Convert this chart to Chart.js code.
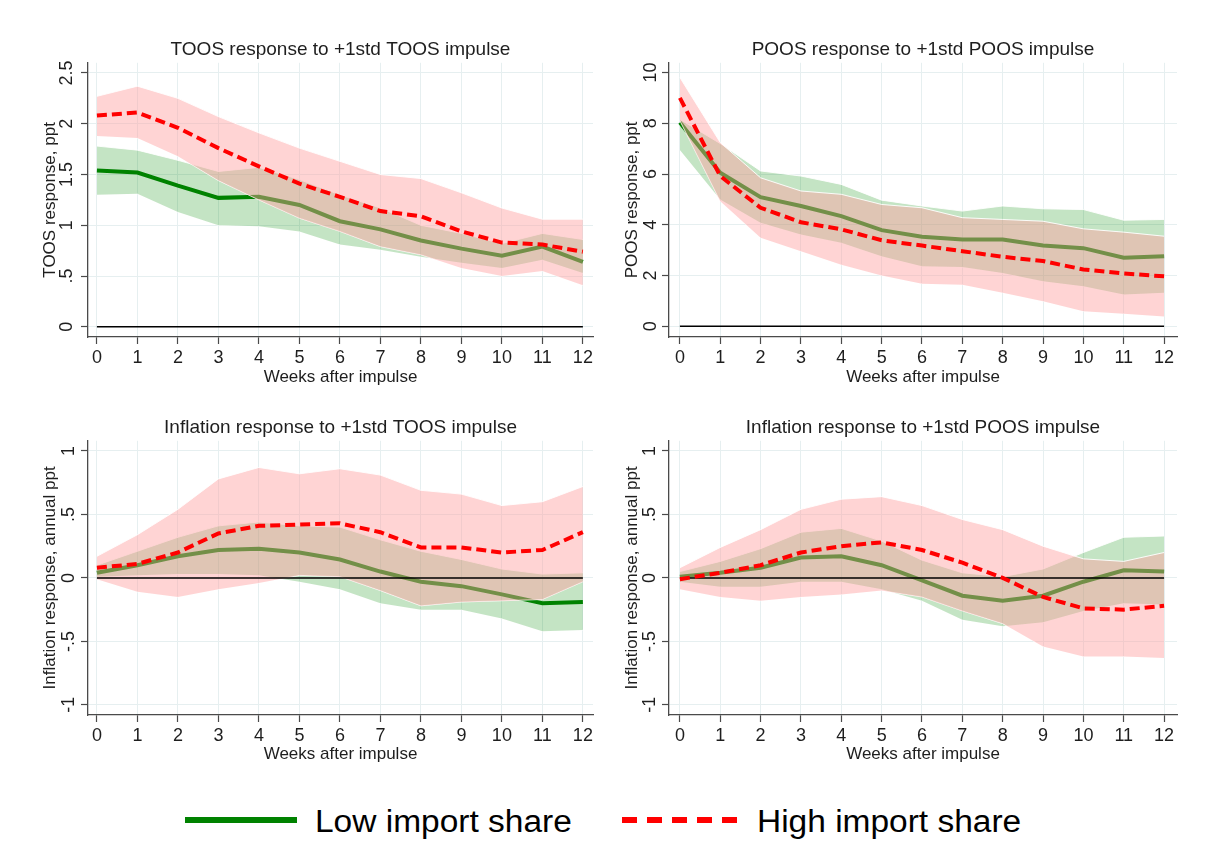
<!DOCTYPE html>
<html>
<head>
<meta charset="utf-8">
<script src="https://cdn.jsdelivr.net/npm/chart.js@4.4.1/dist/chart.umd.min.js"></script>
<style>
  body { margin:0; background:#fff; width:1209px; height:849px; position:relative; overflow:hidden;
         font-family:"Liberation Sans", Arial, sans-serif; }
  canvas { position:absolute; }
  .legline { position:absolute; }
  .legtxt { position:absolute; font-size:31px; line-height:31px; color:#000; white-space:nowrap;
            transform:scaleX(1.08); transform-origin:left center; }
</style>
</head>
<body>
<canvas id="p1" width="573" height="360" style="left:30px;top:30px"></canvas>
<canvas id="p2" width="575" height="360" style="left:612px;top:30px"></canvas>
<canvas id="p3" width="573" height="359" style="left:30px;top:408px"></canvas>
<canvas id="p4" width="575" height="359" style="left:612px;top:408px"></canvas>

<div class="legline" style="left:185px;top:817px;width:112px;height:6px;background:rgb(0,130,0)"></div>
<div class="legtxt" style="left:315px;top:806px">Low import share</div>
<div class="legline" style="left:622px;top:817px;width:115px;height:6px;background:repeating-linear-gradient(to right,#ff0000 0 15px,transparent 15px 25px)"></div>
<div class="legtxt" style="left:757px;top:806px">High import share</div>

<script>
// weeks after impulse
const weeks = [0, 1, 2, 3, 4, 5, 6, 7, 8, 9, 10, 11, 12];

// TOOS response to TOOS impulse
const toosLowMid  = [1.54, 1.52, 1.39, 1.27, 1.28, 1.20, 1.04, 0.96, 0.85, 0.77, 0.70, 0.79, 0.64];
const toosLowHi   = [1.78, 1.74, 1.64, 1.53, 1.57, 1.45, 1.30, 1.17, 1.00, 0.92, 0.82, 0.92, 0.86];
const toosLowLo   = [1.30, 1.31, 1.13, 1.00, 0.99, 0.94, 0.81, 0.76, 0.69, 0.63, 0.58, 0.66, 0.53];
const toosHighMid = [2.08, 2.11, 1.96, 1.76, 1.58, 1.41, 1.28, 1.14, 1.09, 0.94, 0.83, 0.81, 0.74];
const toosHighHi  = [2.27, 2.37, 2.25, 2.07, 1.91, 1.76, 1.63, 1.50, 1.46, 1.32, 1.17, 1.06, 1.06];
const toosHighLo  = [1.88, 1.86, 1.68, 1.44, 1.25, 1.07, 0.94, 0.79, 0.71, 0.58, 0.50, 0.55, 0.41];

// POOS response to POOS impulse
const poosLowMid  = [8.03, 6.05, 5.09, 4.74, 4.34, 3.79, 3.53, 3.42, 3.42, 3.18, 3.08, 2.70, 2.76];
const poosLowHi   = [8.15, 7.20, 6.12, 5.92, 5.59, 4.97, 4.74, 4.54, 4.74, 4.63, 4.60, 4.18, 4.21];
const poosLowLo   = [6.95, 5.00, 4.08, 3.62, 3.29, 2.76, 2.37, 2.34, 2.10, 1.78, 1.58, 1.25, 1.32];
const poosHighMid = [9.00, 5.92, 4.67, 4.10, 3.82, 3.39, 3.18, 2.96, 2.74, 2.57, 2.24, 2.08, 1.97];
const poosHighHi  = [9.80, 7.24, 5.85, 5.33, 5.20, 4.80, 4.67, 4.28, 4.21, 4.14, 3.84, 3.71, 3.55];
const poosHighLo  = [8.10, 4.93, 3.49, 2.96, 2.43, 2.00, 1.68, 1.64, 1.32, 0.99, 0.59, 0.50, 0.39];

// inflation response to TOOS impulse
const infTLowMid  = [0.04, 0.10, 0.17, 0.22, 0.23, 0.20, 0.145, 0.05, -0.03, -0.065, -0.13, -0.20, -0.19];
const infTLowHi   = [0.10, 0.21, 0.32, 0.41, 0.44, 0.41, 0.40, 0.30, 0.21, 0.145, 0.07, 0.03, 0.04];
const infTLowLo   = [0.01, 0.02, 0.03, 0.03, 0.02, -0.03, -0.09, -0.20, -0.25, -0.25, -0.32, -0.42, -0.41];
const infTHighMid = [0.08, 0.11, 0.20, 0.35, 0.41, 0.42, 0.43, 0.36, 0.24, 0.24, 0.20, 0.22, 0.36];
const infTHighHi  = [0.17, 0.34, 0.54, 0.78, 0.87, 0.82, 0.86, 0.81, 0.69, 0.66, 0.57, 0.60, 0.72];
const infTHighLo  = [-0.01, -0.11, -0.15, -0.09, -0.04, 0.02, 0.01, -0.10, -0.22, -0.19, -0.18, -0.17, -0.03];

// inflation response to POOS impulse
const infPLowMid  = [0.01, 0.04, 0.08, 0.16, 0.17, 0.10, -0.02, -0.14, -0.18, -0.14, -0.03, 0.06, 0.05];
const infPLowHi   = [0.05, 0.13, 0.23, 0.36, 0.39, 0.29, 0.14, 0.04, 0.01, 0.07, 0.20, 0.32, 0.33];
const infPLowLo   = [-0.03, -0.07, -0.07, -0.03, -0.03, -0.09, -0.18, -0.33, -0.38, -0.35, -0.26, -0.20, -0.21];
const infPHighMid = [-0.01, 0.04, 0.10, 0.20, 0.25, 0.28, 0.22, 0.12, 0.00, -0.15, -0.24, -0.25, -0.22];
const infPHighHi  = [0.08, 0.24, 0.38, 0.54, 0.62, 0.64, 0.57, 0.46, 0.38, 0.25, 0.15, 0.13, 0.20];
const infPHighLo  = [-0.09, -0.15, -0.18, -0.15, -0.13, -0.10, -0.15, -0.26, -0.36, -0.54, -0.62, -0.62, -0.63];

// y tick values
const toosTicks = [0, 0.5, 1, 1.5, 2, 2.5];
const poosTicks = [0, 2, 4, 6, 8, 10];
const infTicks  = [-1, -0.5, 0, 0.5, 1];

const FONT = '"Liberation Sans", Arial, sans-serif';
const TXT = '#1e1e1e';
const GRID = '#e6eff0';
const AXIS = '#4a4a4a';
const GREEN = 'rgb(0,130,0)';
const RED = '#ff0000';
const GREEN_BAND = 'rgba(0,140,0,0.23)';
const RED_BAND = 'rgba(255,160,160,0.45)';
const EDGE = 'rgba(255,255,255,0.9)';

function pts(ys) { return weeks.map((w, i) => ({x: w, y: ys[i]})); }
// stata style labels: .5 instead of 0.5
function stata(v) { return String(Math.round(v * 100) / 100).replace(/^(-?)0\./, '$1.'); }

function makePanel(id, c) {
  const zero = [{x: weeks[0], y: 0}, {x: weeks[weeks.length - 1], y: 0}];
  const base = {pointRadius: 0, tension: 0};
  new Chart(document.getElementById(id), {
    type: 'line',
    data: {
      datasets: [
        {...base, data: pts(c.lowLo), borderColor: EDGE, borderWidth: 1, fill: false, order: 6},
        {...base, data: pts(c.lowHi), borderColor: EDGE, borderWidth: 1, fill: {target: 0}, backgroundColor: GREEN_BAND, order: 5},
        {...base, data: pts(c.lowMid), borderColor: GREEN, borderWidth: 4, fill: false, order: 4},
        {...base, data: pts(c.highLo), borderColor: EDGE, borderWidth: 1, fill: false, order: 3},
        {...base, data: pts(c.highHi), borderColor: EDGE, borderWidth: 1, fill: {target: 3}, backgroundColor: RED_BAND, order: 2},
        {...base, data: zero, borderColor: '#000', borderWidth: 1.5, fill: false, order: 1},
        {...base, data: pts(c.highMid), borderColor: RED, borderWidth: 4, borderDash: [10, 5], fill: false, order: 0}
      ]
    },
    options: {
      responsive: false,
      animation: false,
      events: [],
      layout: {padding: {left: 0, right: 10, top: 0, bottom: 0}},
      plugins: {
        legend: {display: false},
        tooltip: {enabled: false},
        title: {display: true, text: c.title, fullSize: false, color: TXT,
                font: {size: 19, family: FONT, weight: 'normal'}, padding: {top: 8, bottom: 2}}
      },
      scales: {
        x: {
          type: 'linear', min: c.xMin, max: c.xMax,
          afterBuildTicks: s => { s.ticks = weeks.map(v => ({value: v})); },
          afterFit: s => { s.height = c.xH; },
          grid: {color: GRID, lineWidth: 1, tickColor: AXIS, tickLength: 7, tickWidth: 1.2},
          border: {color: AXIS, width: 1.3},
          ticks: {font: {size: 18, family: FONT}, color: TXT, padding: 3, maxRotation: 0, autoSkip: false,
                  callback: v => String(v)},
          title: {display: true, text: 'Weeks after impulse', color: TXT,
                  font: {size: 17, family: FONT}, padding: {top: 0, bottom: 2}}
        },
        y: {
          min: c.yMin, max: c.yMax,
          afterBuildTicks: s => { s.ticks = c.yTicks.map(v => ({value: v})); },
          afterFit: s => { s.width = c.yW; },
          grid: {color: GRID, lineWidth: 1, tickColor: AXIS, tickLength: 7, tickWidth: 1.2},
          border: {color: AXIS, width: 1.3},
          ticks: {font: {size: 18, family: FONT}, color: TXT, padding: 1, minRotation: 90, maxRotation: 90,
                  crossAlign: 'center', autoSkip: false, callback: v => stata(v)},
          title: {display: true, text: c.yTitle, color: TXT,
                  font: {size: 17, family: FONT}, padding: {top: 10, bottom: 0}}
        }
      }
    }
  });
}

makePanel('p1', {title: 'TOOS response to +1std TOOS impulse', yTitle: 'TOOS response, ppt',
  yMin: -0.10, yMax: 2.60, yTicks: toosTicks, xMin: -0.22, xMax: 12.25, yW: 58, xH: 53,
  lowMid: toosLowMid, lowHi: toosLowHi, lowLo: toosLowLo, highMid: toosHighMid, highHi: toosHighHi, highLo: toosHighLo});

makePanel('p2', {title: 'POOS response to +1std POOS impulse', yTitle: 'POOS response, ppt',
  yMin: -0.42, yMax: 10.38, yTicks: poosTicks, xMin: -0.27, xMax: 12.32, yW: 57, xH: 53,
  lowMid: poosLowMid, lowHi: poosLowHi, lowLo: poosLowLo, highMid: poosHighMid, highHi: poosHighHi, highLo: poosHighLo});

makePanel('p3', {title: 'Inflation response to +1std TOOS impulse', yTitle: 'Inflation response, annual ppt',
  yMin: -1.08, yMax: 1.08, yTicks: infTicks, xMin: -0.22, xMax: 12.25, yW: 58, xH: 52,
  lowMid: infTLowMid, lowHi: infTLowHi, lowLo: infTLowLo, highMid: infTHighMid, highHi: infTHighHi, highLo: infTHighLo});

makePanel('p4', {title: 'Inflation response to +1std POOS impulse', yTitle: 'Inflation response, annual ppt',
  yMin: -1.08, yMax: 1.08, yTicks: infTicks, xMin: -0.27, xMax: 12.32, yW: 57, xH: 52,
  lowMid: infPLowMid, lowHi: infPLowHi, lowLo: infPLowLo, highMid: infPHighMid, highHi: infPHighHi, highLo: infPHighLo});
</script>
</body>
</html>
